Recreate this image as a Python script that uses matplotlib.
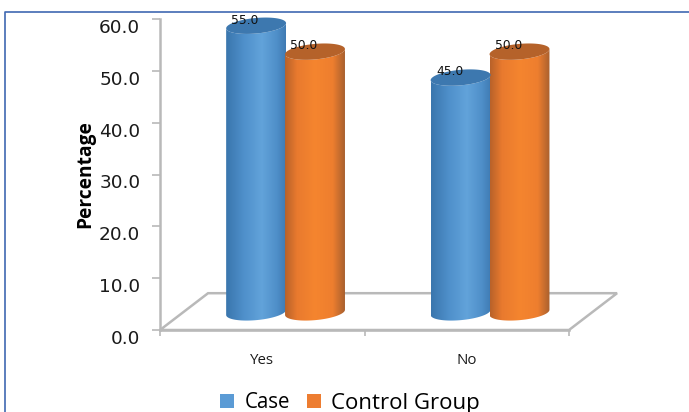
import numpy as np
import matplotlib
matplotlib.use('Agg')
import matplotlib.pyplot as plt
from matplotlib.colors import LinearSegmentedColormap
from matplotlib.lines import Line2D
from matplotlib.patches import Patch, PathPatch, Polygon
from matplotlib.path import Path
from matplotlib.transforms import ScaledTranslation

categories = ['Yes', 'No']
case_values = [55.0, 45.0]
control_values = [50.0, 50.0]
y_ticks = [0, 10, 20, 30, 40, 50, 60]

W, H = 689, 412
GREY = '#b9b9b9'

# 3D look: how far the floor runs back, and where the bars stand on it
floor_dx, floor_dy = 0.235, 7.1
base_y = 3.4
top_lift = 3.7
bar_w = 0.293
ell_b = 1.5     # half height of the ellipses
ell_tilt = 0.5  # right side sits a bit higher than the left

blue_cmap = LinearSegmentedColormap.from_list('blue', [(0, '#3a76ad'), (0.3, '#4f90cb'), (0.6, '#62a3da'), (0.85, '#4f8fc9'), (1, '#3f7bb3')])
orange_cmap = LinearSegmentedColormap.from_list('orange', [(0, '#b8622a'), (0.2, '#e97a2e'), (0.5, '#f5852f'), (0.8, '#ee7e2e'), (1, '#a9602f')])

fig = plt.figure(figsize=(W / 100, H / 100), dpi=100)
ax = fig.add_axes([160 / W, 1 - 330 / H, 409 / W, 311 / H])
ax.patch.set_visible(False)

# blue frame of the original slide
fig.add_artist(Line2D([5 / W, 5 / W, 1], [0, 1 - 12 / H, 1 - 12 / H], color='#3f68b2', lw=1.2))

ax.add_patch(Polygon([(-0.5, 0), (1.5, 0), (1.5 + floor_dx, floor_dy), (-0.5 + floor_dx, floor_dy)],
                     closed=True, facecolor='white', edgecolor=GREY, lw=1.8, clip_on=False, zorder=1))


def draw_cylinder(cx, top, cmap, top_color):
    t = np.linspace(np.pi, 2 * np.pi, 40)
    a = bar_w / 2
    # outline: down the left side, round the front of the base, back up over the top
    low_x = cx + a * np.cos(t)
    low_y = base_y + ell_b * np.sin(t) + ell_tilt * np.cos(t)
    up_x = low_x[::-1]
    up_y = top + ell_b * np.sin(t[::-1]) + ell_tilt * np.cos(t[::-1])
    verts = np.column_stack([np.r_[low_x, up_x], np.r_[low_y, up_y]])
    body = PathPatch(Path(np.vstack([verts, verts[0]]), closed=True), facecolor='none', edgecolor='none', zorder=3)
    ax.add_patch(body)
    grad = np.linspace(0, 1, 128).reshape(1, -1)
    im = ax.imshow(grad, extent=[cx - a, cx + a, 0, top + 3], cmap=cmap, aspect='auto', zorder=3)
    im.set_clip_path(body)
    im.set_clip_on(True)

    # lid
    t2 = np.linspace(0, 2 * np.pi, 80)
    lid_x = cx + a * np.cos(t2)
    lid_y = top + ell_b * np.sin(t2) + ell_tilt * np.cos(t2)
    ax.add_patch(Polygon(np.column_stack([lid_x, lid_y]), closed=True, facecolor=top_color,
                         edgecolor='none', zorder=4, clip_on=False))


x = np.arange(len(categories))
for i in x:
    draw_cylinder(i - 0.03, case_values[i] + top_lift, blue_cmap, '#3d78af')
    draw_cylinder(i + 0.258, control_values[i] + top_lift, orange_cmap, '#b5622a')
    ax.text(i - 0.03 - 0.054, case_values[i] + 4.8, f'{case_values[i]:.1f}', ha='center', va='center',
            fontsize=8.8, color='#111111', zorder=5, clip_on=False)
    ax.text(i + 0.258 - 0.054, control_values[i] + 4.8, f'{control_values[i]:.1f}', ha='center', va='center',
            fontsize=8.8, color='#111111', zorder=5, clip_on=False)

ax.set_xlim(-0.5, 1.5)
ax.set_ylim(0, 60)
ax.set_yticks(y_ticks)
ax.set_yticklabels([f'{v:.1f}' for v in y_ticks], fontsize=13.3, color='#1a1a1a')
ax.set_xticks(x)
ax.set_xticklabels(categories, fontsize=10.8, family='Open Sans', color='#1a1a1a')
ax.set_xticks([-0.5, 0.5, 1.5], minor=True)
ax.tick_params(axis='x', which='major', length=0, pad=16.5)
ax.tick_params(axis='x', which='minor', length=4.5, width=1.2, color=GREY)
ax.tick_params(axis='y', length=6, width=1.2, color=GREY, pad=8.2)
# the value labels sit a little under their ticks in the original
for lab in ax.get_yticklabels():
    lab.set_transform(lab.get_transform() + ScaledTranslation(0, -7 / 100, fig.dpi_scale_trans))
for side in ['top', 'right']:
    ax.spines[side].set_visible(False)
for side in ['left', 'bottom']:
    ax.spines[side].set_color(GREY)
    ax.spines[side].set_linewidth(1.8)
ax.set_ylabel('Percentage', fontsize=13.8, fontweight='bold', family='Open Sans', color='black', labelpad=3)

handles = [Patch(facecolor='#5b9bd5', label='Case'), Patch(facecolor='#ed7d31', label='Control Group')]
leg = fig.legend(handles=handles, loc='center left', bbox_to_anchor=(220 / W, 1 - 403 / H), ncol=2, frameon=False,
                 prop={'family': 'Open Sans', 'size': 14.8}, handlelength=0.68, handleheight=0.68,
                 handletextpad=0.5, columnspacing=0.85, borderpad=0, borderaxespad=0)
leg.get_texts()[1].set_fontsize(16)

fig.savefig('out.png', dpi=100)
